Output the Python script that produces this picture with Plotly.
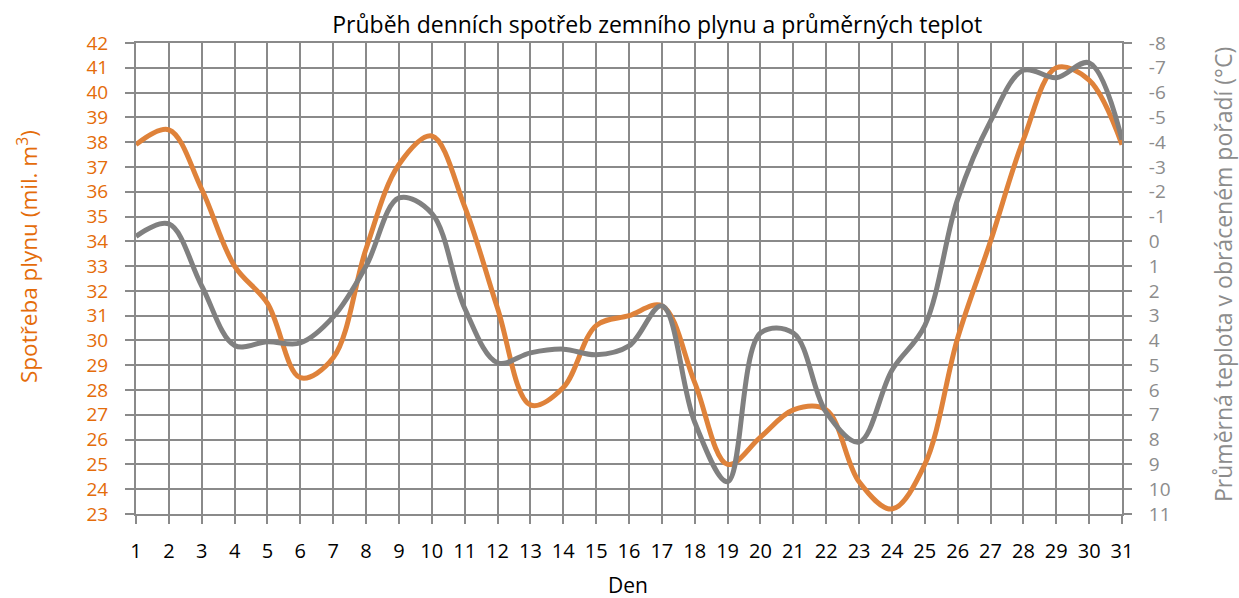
import plotly.graph_objects as go

days = list(range(1, 32))
day_labels = [str(d) for d in days]

gas_consumption = [37.9, 38.5, 36.1, 33.0, 31.5, 28.5, 29.3, 33.7, 37.1, 38.25,
                   35.4, 31.3, 27.4, 28.1, 30.6, 31.0, 31.4, 28.3, 25.0, 26.1,
                   27.2, 27.2, 24.3, 23.2, 25.0, 30.1, 34.0, 38.1, 41.0, 40.5, 37.9]

avg_temperature = [-0.2, -0.7, 1.8, 4.2, 4.05, 4.1, 3.05, 1.0, -1.75, -1.13,
                   2.7, 4.9, 4.5, 4.35, 4.58, 4.22, 2.6, 7.3, 9.7, 3.7,
                   3.7, 6.9, 8.1, 5.2, 3.4, -1.7, -4.85, -6.9, -6.6, -7.2, -4.1]

left_ticks = list(range(23, 43))
right_ticks = list(range(-8, 12))
right_labels = [str(v) for v in right_ticks]

ORANGE_LINE = "#DF823A"
ORANGE_TEXT = "#E46C0A"
GRAY_LINE = "#808080"
GRAY_TEXT = "#8C8C8C"
GRID = "#8A8A8A"
FONT = "Open Sans"

fig = go.Figure()
fig.add_trace(go.Scatter(
    x=days, y=gas_consumption, mode="lines", yaxis="y",
    line=dict(color=ORANGE_LINE, width=5, shape="spline", smoothing=1.0),
    name="Spotřeba plynu", showlegend=False))
fig.add_trace(go.Scatter(
    x=days, y=avg_temperature, mode="lines", yaxis="y2",
    line=dict(color=GRAY_LINE, width=5, shape="spline", smoothing=1.0),
    name="Teplota", showlegend=False))

fig.update_layout(
    width=1239, height=598,
    margin=dict(l=136, r=117, t=43, b=84, autoexpand=False),
    paper_bgcolor="white", plot_bgcolor="white",
    font=dict(family=FONT, size=20, color="black"),
    title=dict(text="Průběh denních spotřeb zemního plynu a průměrných teplot",
               x=655 / 1239, xanchor="center", xref="paper",
               y=1 - 25 / 598, yanchor="middle",
               font=dict(family=FONT, size=23, color="black")),
    xaxis=dict(range=[1, 31], tickvals=days, ticktext=day_labels,
               showgrid=True, gridcolor=GRID, gridwidth=2,
               ticks="outside", ticklen=8, tickwidth=2, tickcolor=GRID,
               showline=True, linecolor=GRID, linewidth=2, mirror=True,
               zeroline=False, tickfont=dict(family=FONT, size=20, color="black"),
               ticklabelstandoff=10),
    yaxis=dict(range=[23, 42], tickvals=left_ticks,
               showgrid=True, gridcolor=GRID, gridwidth=2,
               ticks="outside", ticklen=9, tickwidth=2, tickcolor=GRID,
               showline=True, linecolor=GRID, linewidth=2, mirror=True,
               zeroline=False, tickfont=dict(family=FONT, size=19, color=ORANGE_TEXT),
               ticklabelstandoff=13),
    yaxis2=dict(range=[11, -8], tickvals=right_ticks, ticktext=right_labels,
                overlaying="y", side="right",
                showgrid=False, zeroline=False,
                ticks="outside", ticklen=9, tickwidth=2, tickcolor=GRID,
                tickfont=dict(family=FONT, size=19, color=GRAY_TEXT),
                ticklabelstandoff=13),
    annotations=[
        dict(text="Spotřeba plynu (mil. m<sup>3</sup>)", xref="paper", yref="paper",
             x=(27 - 136) / 986, y=(514 - 257) / 471, textangle=-90,
             xanchor="center", yanchor="middle", showarrow=False,
             font=dict(family=FONT, size=22.5, color=ORANGE_TEXT)),
        dict(text="Průměrná teplota v obráceném pořadí (°C)", xref="paper", yref="paper",
             x=(1223 - 136) / 986, y=(514 - 275) / 471, textangle=-90,
             xanchor="center", yanchor="middle", showarrow=False,
             font=dict(family=FONT, size=23, color=GRAY_TEXT)),
        dict(text="Den", xref="paper", yref="paper",
             x=(628 - 136) / 986, y=(514 - 585) / 471,
             xanchor="center", yanchor="middle", showarrow=False,
             font=dict(family=FONT, size=21, color="black")),
    ],
)

fig.write_html("out.html", config={"displayModeBar": False},
               post_script="document.body.style.margin='0px';")
